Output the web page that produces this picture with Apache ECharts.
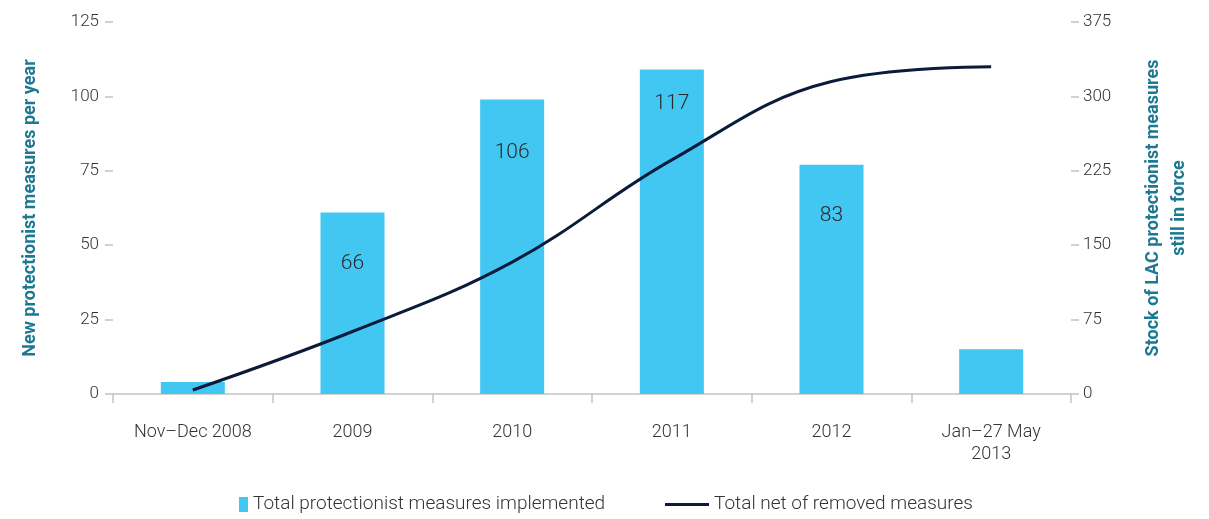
<!DOCTYPE html>
<html>
<head>
  <meta charset="utf-8">
  <title>LAC protectionist measures</title>
  <style>
    html, body { margin: 0; padding: 0; background: #fff; }
    #main { width: 1209px; height: 519px; }
  </style>
</head>
<body>
  <div id="main"></div>
</body>
<script src="https://cdn.jsdelivr.net/npm/echarts@6/dist/echarts.min.js"></script>
<script>
let myChart = echarts.init(document.querySelector('#main'))

// data
const categories = ['Nov\u2013Dec 2008', '2009', '2010', '2011', '2012', 'Jan\u201327 May\n2013']
const implemented = [4, 61, 99, 109, 77, 15]
const barLabels = ['', '66', '106', '117', '83', '']
const netStock = [4, 63, 133, 236, 315, 330]

// label nudges inside the bars (px down from bar top)
const labelNudge = [0, 41, 43, 24, 40, 0]

const font = 'Roboto, "Noto Sans", sans-serif'
const teal = '#1d7891'
const txt = '#333'

let barData = implemented.map((v, i) => ({
    value: v,
    label: {
        show: barLabels[i] !== '',
        formatter: barLabels[i],
        offset: [0, labelNudge[i]]
    }
}))

let option = {
    animation: false,
    grid: { left: 113, right: 138, top: 22, bottom: 125 },
    legend: [{
        left: 234,
        top: 490,
        icon: 'rect',
        itemWidth: 9,
        itemHeight: 15,
        itemGap: 6,
        textStyle: { fontFamily: font, fontSize: 19, color: txt, fontWeight: 300 },
        data: ['Total protectionist measures implemented']
    }, {
        left: 660,
        top: 490,
        icon: 'rect',
        itemWidth: 44,
        itemHeight: 3,
        textStyle: { fontFamily: font, fontSize: 19, color: txt, fontWeight: 300 },
        data: ['Total net of removed measures']
    }],
    xAxis: {
        type: 'category',
        data: categories,
        axisLine: { lineStyle: { color: '#c4c4c4', width: 1.5 } },
        axisTick: { show: true, length: 9, lineStyle: { color: '#c4c4c4', width: 1.5 } },
        axisLabel: {
            margin: 27,
            fontFamily: font,
            fontSize: 18,
            fontWeight: 300,
            color: txt,
            lineHeight: 22
        }
    },
    yAxis: [{
        type: 'value',
        min: 0,
        max: 125,
        interval: 25,
        name: 'New protectionist measures per year',
        nameLocation: 'middle',
        nameGap: 74,
        nameTextStyle: { fontFamily: font, fontSize: 18, fontWeight: 'bold', color: teal },
        axisLine: { show: false },
        axisTick: { show: true, length: 8, lineStyle: { color: '#c4c4c4', width: 1.5 } },
        splitLine: { show: false },
        axisLabel: { margin: 14, fontFamily: font, fontSize: 17, fontWeight: 300, color: txt }
    }, {
        type: 'value',
        min: 0,
        max: 375,
        interval: 75,
        name: 'Stock of LAC protectionist measures\nstill in force',
        nameLocation: 'middle',
        nameGap: 69,
        nameTextStyle: { fontFamily: font, fontSize: 18, fontWeight: 'bold', color: teal, lineHeight: 26, align: 'center' },
        axisLine: { show: false },
        axisTick: { show: true, length: 8, lineStyle: { color: '#c4c4c4', width: 1.5 } },
        splitLine: { show: false },
        axisLabel: { margin: 12, fontFamily: font, fontSize: 17, fontWeight: 300, color: txt }
    }],
    series: [{
        name: 'Total protectionist measures implemented',
        type: 'bar',
        yAxisIndex: 0,
        barWidth: 64,
        itemStyle: { color: '#42c7f3' },
        label: {
            position: 'insideTop',
            distance: 0,
            fontFamily: font,
            fontSize: 21,
            fontWeight: 300,
            lineHeight: 21,
            color: '#2a2a2a'
        },
        data: barData
    }, {
        name: 'Total net of removed measures',
        type: 'line',
        yAxisIndex: 1,
        smooth: 0.4,
        symbol: 'none',
        lineStyle: { color: '#0b1b3b', width: 3 },
        itemStyle: { color: '#0b1b3b' },
        data: netStock
    }]
};
myChart.setOption(option);
</script>
</html>
